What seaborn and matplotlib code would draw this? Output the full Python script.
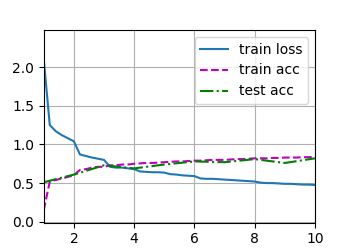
import numpy as np
import pandas as pd
import matplotlib
matplotlib.use("Agg")
import matplotlib.pyplot as plt
import seaborn as sns

# epoch positions of the per-batch records (5 per epoch)
batch_x = [1.0,
           1.2, 1.4, 1.6, 1.8, 2.0,
           2.2, 2.4, 2.6, 2.8, 3.0,
           3.2, 3.4, 3.6, 3.8, 4.0,
           4.2, 4.4, 4.6, 4.8, 5.0,
           5.2, 5.4, 5.6, 5.8, 6.0,
           6.2, 6.4, 6.6, 6.8, 7.0,
           7.2, 7.4, 7.6, 7.8, 8.0,
           8.2, 8.4, 8.6, 8.8, 9.0,
           9.2, 9.4, 9.6, 9.8, 10.0]
train_loss = [2.10,
              1.25, 1.17, 1.12, 1.08, 1.04,
              0.87, 0.85, 0.83, 0.815, 0.80,
              0.71, 0.70, 0.70, 0.69, 0.68,
              0.65, 0.645, 0.64, 0.64, 0.635,
              0.615, 0.61, 0.60, 0.595, 0.59,
              0.56, 0.555, 0.555, 0.55, 0.545,
              0.54, 0.535, 0.53, 0.525, 0.52,
              0.505, 0.50, 0.50, 0.495, 0.49,
              0.49, 0.485, 0.48, 0.48, 0.475]
train_acc = [0.15,
             0.52, 0.54, 0.56, 0.58, 0.60,
             0.67, 0.68, 0.70, 0.71, 0.71,
             0.73, 0.73, 0.74, 0.74, 0.75,
             0.755, 0.76, 0.76, 0.765, 0.77,
             0.775, 0.78, 0.78, 0.785, 0.79,
             0.79, 0.795, 0.80, 0.80, 0.80,
             0.805, 0.81, 0.81, 0.815, 0.82,
             0.82, 0.82, 0.825, 0.825, 0.83,
             0.83, 0.83, 0.835, 0.835, 0.84]
epochs = [1, 2, 3, 4, 5, 6, 7, 8, 9, 10]
test_acc = [0.51, 0.61, 0.73, 0.69, 0.74, 0.78, 0.77, 0.81, 0.76, 0.82]

plt.rcParams.update({"font.family": ["DejaVu Sans"], "font.size": 10})
fig = plt.figure(figsize=(3.5, 2.5), dpi=100)
ax = fig.add_axes([0.125, 0.11, 0.775, 0.77])

df_b = pd.DataFrame({"x": batch_x, "loss": train_loss, "acc": train_acc})
df_t = pd.DataFrame({"x": epochs, "acc": test_acc})

sns.lineplot(data=df_b, x="x", y="loss", ax=ax, color="#1f77b4", linestyle="-",
             linewidth=1.5, label="train loss", errorbar=None)
sns.lineplot(data=df_b, x="x", y="acc", ax=ax, color="m", linestyle="--",
             linewidth=1.5, label="train acc", errorbar=None)
sns.lineplot(data=df_t, x="x", y="acc", ax=ax, color="g", linestyle="-.",
             linewidth=1.5, label="test acc", errorbar=None)

ax.set_xlim(1, 10)
ax.set_ylim(-0.01, 2.48)
ax.set_xticks([2, 4, 6, 8, 10])
ax.set_yticks([0.0, 0.5, 1.0, 1.5, 2.0])
ax.set_xlabel("")
ax.set_ylabel("")
ax.grid(True, color="#b0b0b0", linewidth=0.8)
ax.legend(loc="upper right")

fig.savefig("out.png", dpi=100)
